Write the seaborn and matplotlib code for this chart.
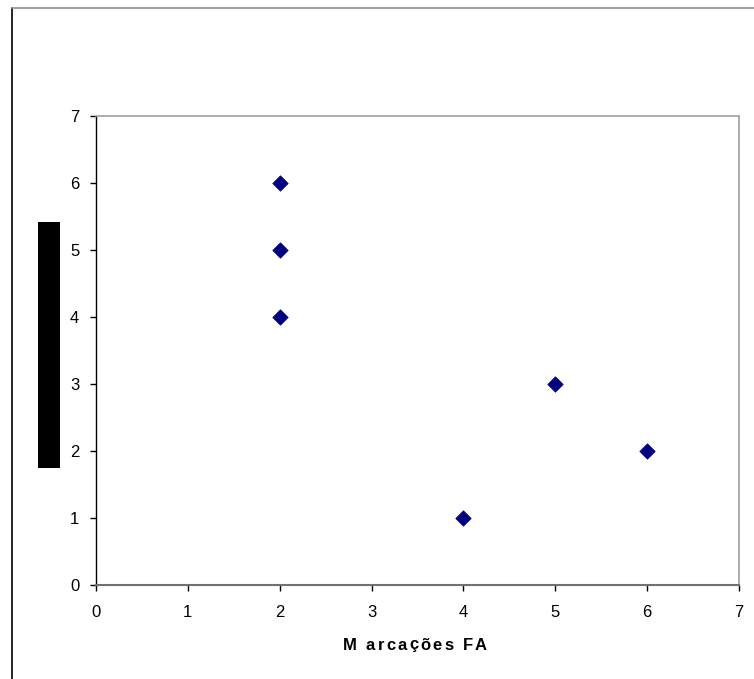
import matplotlib
matplotlib.use("Agg")
import matplotlib.pyplot as plt
import seaborn as sns
import pandas as pd
from matplotlib.lines import Line2D
from matplotlib.patches import Rectangle
from matplotlib.font_manager import FontProperties, findfont
from matplotlib.ft2font import FT2Font

marcacoes_fa = [2, 2, 2, 5, 6, 4]
y_values = [6, 5, 4, 3, 2, 1]
x_ticks = [0, 1, 2, 3, 4, 5, 6, 7]
y_ticks = [0, 1, 2, 3, 4, 5, 6, 7]
x_label = "M arcações FA"

sns.set_theme(style="white")
plt.rcParams['font.family'] = ['Liberation Sans', 'DejaVu Sans']

W, H = 754, 679
DPI = 100
fig = plt.figure(figsize=(W / DPI, H / DPI), dpi=DPI)
ax = fig.add_axes([96 / W, 1 - 585 / H, (739 - 96) / W, (585 - 116) / H])

df = pd.DataFrame({"x": marcacoes_fa, "y": y_values})
sns.scatterplot(data=df, x="x", y="y", ax=ax, marker="D", s=62,
                color="#000080", edgecolor="#000080", linewidth=0.5, zorder=3)

ax.set_xlim(0, 7)
ax.set_ylim(0, 7)
ax.set_xticks(x_ticks)
ax.set_yticks(y_ticks)
ax.set_xticklabels([str(t) for t in x_ticks], fontsize=12, color="black")
ax.set_yticklabels([str(t) for t in y_ticks], fontsize=12, color="black")
ax.tick_params(axis="both", direction="out", length=4, width=1, color="black",
               bottom=True, left=True)
ax.tick_params(axis="x", pad=10.5)
ax.tick_params(axis="y", pad=8)
ax.set_xlabel("")
ax.set_ylabel("")

for side in ["top", "right"]:
    ax.spines[side].set_color("#a0a0a0")
    ax.spines[side].set_linewidth(1.2)
ax.spines["bottom"].set_color("#707070")
ax.spines["bottom"].set_linewidth(1.5)
ax.spines["left"].set_color("black")
ax.spines["left"].set_linewidth(1.0)
ax.grid(False)

# x-axis title with wide letter spacing (as in the reference)
fp = FontProperties(family="Liberation Sans", weight="bold", size=12)
ft = FT2Font(findfont(fp))
ft.set_size(12, DPI)
advances = []
for ch in x_label:
    g = ft.load_char(ord(ch))
    advances.append(g.linearHoriAdvance / 65536.0)
tracking = 2.2
total = sum(advances) + tracking * (len(x_label) - 1)
x_center = 415.0
x_pos = x_center - total / 2
y_pix = 645.0
for ch, adv in zip(x_label, advances):
    fig.text(x_pos / W, 1 - y_pix / H, ch, fontproperties=fp, color="black",
             ha="left", va="center")
    x_pos += adv + tracking

# figure frame (left and top edges visible)
fig.add_artist(Line2D([12 / W, 12 / W], [0, 1 - 8 / H], transform=fig.transFigure,
                      color="black", linewidth=1.2))
fig.add_artist(Line2D([12 / W, 1], [1 - 8 / H, 1 - 8 / H], transform=fig.transFigure,
                      color="#909090", linewidth=1.2))

# black bar where the y-axis title sits
fig.add_artist(Rectangle((38 / W, 1 - 468 / H), 22 / W, (468 - 222) / H,
                         transform=fig.transFigure, facecolor="black", edgecolor="none"))

fig.savefig("out.png", dpi=DPI)
